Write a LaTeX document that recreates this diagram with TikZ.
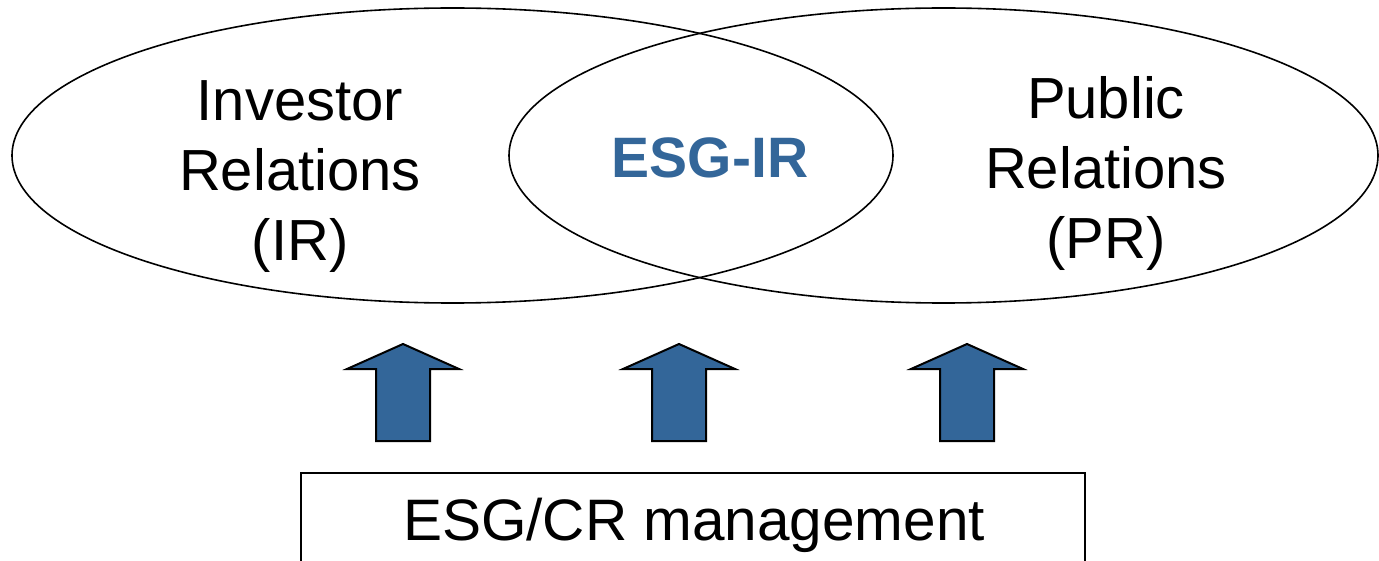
\documentclass[tikz,border=0pt]{standalone}
\usepackage{fontspec}
\setmainfont{Liberation Sans}
\usetikzlibrary{shapes.geometric}
\definecolor{esgblue}{RGB}{51,102,153}
\tikzset{
  venn/.style={ellipse, draw=black, line width=1.6pt, inner sep=0pt},
  bigtext/.style={font=\fontsize{58}{70}\selectfont, align=center, inner sep=0pt},
  boxstyle/.style={draw=black, line width=1.6pt, inner sep=0pt},
  blockarrow/.style={fill=esgblue, draw=black, line width=2pt, line join=miter},
  uparrow/.pic={\draw[blockarrow] (0,0) -- (56,25) -- (27,25) -- (27,97) -- (-27,97) -- (-27,25) -- (-56,25) -- cycle;}
}
\begin{document}
\begin{tikzpicture}[x=1pt,y=-1pt]
\useasboundingbox (0,0) rectangle (1379,561);
\clip (0,0) rectangle (1379,561);
\node[venn, minimum width=881pt, minimum height=295pt] (ir) at (452.5,155.5) {};
\node[venn, minimum width=869pt, minimum height=295pt] (pr) at (943.5,155.5) {};
\node[bigtext] (irtext) at (300,177) {Investor\\Relations\\(IR)};
\node[bigtext] (prtext) at (1106,173) {Public\\Relations\\(PR)};
\node[font=\fontsize{57}{68}\selectfont\bfseries, text=esgblue, inner sep=0pt, anchor=base] (esg) at (710,178) {ESG-IR};
\node[boxstyle, minimum width=784pt, minimum height=140pt, anchor=north] (box) at (693,472) {};
\node[font=\fontsize{58.5}{70}\selectfont, inner sep=0pt, anchor=base] (boxtext) at (694,540) {ESG/CR management};
\pic at (403,344) {uparrow};
\pic at (679,344) {uparrow};
\pic at (967,344) {uparrow};
\end{tikzpicture}
\end{document}
